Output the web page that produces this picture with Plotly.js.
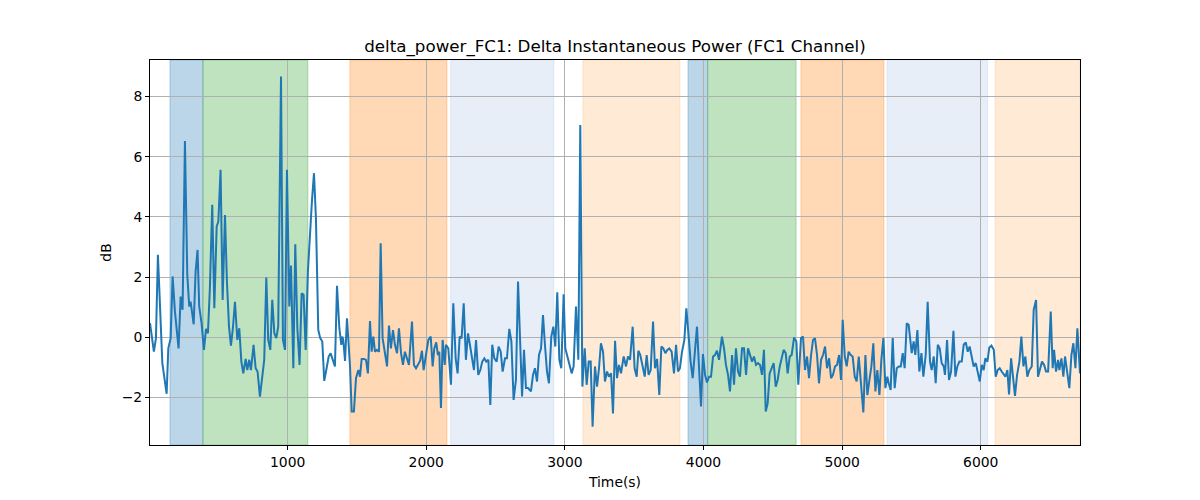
<!DOCTYPE html>
<html>
<head>
<meta charset="utf-8">
<script src="https://cdn.plot.ly/plotly-3.0.1.min.js"></script>
<style>html,body{margin:0;padding:0;background:#fff;}#chart{width:1200px;height:500px;}</style>
</head>
<body>
<div id="chart"></div>
<script>
// Time (s)
const timeS = [
7,35,50,64,96,127,139,156,170,187,213,228,242,259,276,290,300,307,322,336,350,362,379,396,411,425,439,456,471,488,500,516,531,548,562,577,591,605,620,637,651,666,680,
697,709,723,735,742,754,769,783,800,817,831,846,860,875,889,904,918,932,952,966,981,995,1012,1024,1041,1055,1070,1086,1101,1115,1130,1146,1163,1175,1190,1204,1221,1235,1250,1264,1281,1296,1310,1327,1341,1356,1373,
1387,1394,1401,1414,1428,1450,1462,1478,1493,1510,1522,1534,1551,1565,1579,1594,1606,1618,1630,1644,1659,1671,1685,1702,1717,1731,1745,1760,1774,1789,1803,1818,1832,1846,1861,1875,1897,1911,1926,1940,1955,1969,1981,1996,2015,2032,2046,2058,
2072,2084,2094,2106,2118,2133,2142,2159,2178,2195,2212,2226,2241,2255,2270,2286,2301,2315,2330,2344,2359,2375,2390,2404,2419,2433,2448,2462,2476,2491,2508,2522,2537,2551,2568,2582,2599,2614,2630,2647,2662,2676,2691,2705,2719,2734,
2755,2770,2784,2799,2813,2828,2842,2856,2871,2885,2902,2917,2931,2945,2960,2974,2991,3003,3018,3034,3049,3063,3080,3097,3111,3126,3143,3157,3172,3186,3200,3217,3232,3246,3260,3275,3289,3304,3318,3333,3347,3362,3376,3390,3405,3424,
3441,3455,3470,3489,3503,3518,3530,3544,3559,3576,3590,3604,3619,3636,3650,3665,3681,3696,3710,3725,3739,3753,3770,3787,3802,3816,3830,3845,3862,3876,3893,3907,3922,3939,3953,3968,3982,3996,4011,4025,4040,4054,4069,4083,4097,4112,
4133,4148,4162,4177,4191,4206,4220,4234,4249,4263,4278,4292,4307,4321,4335,4350,4364,4379,4393,4408,4422,4436,4449,4463,4477,4492,4506,4521,4535,4550,4564,4578,4593,4607,4622,4636,4653,4670,4684,4703,4718,4732,4747,4761,4776,4790,4804,
4819,4833,4848,4862,4877,4891,4906,4920,4934,4949,4963,4978,4992,5004,5019,5033,5047,5062,5076,5091,5105,5120,5134,5153,5168,5182,5197,5211,5225,5240,5254,5269,5283,5298,5312,5326,5336,5350,5365,5379,5394,5408,5423,5437,5451,5466,5480,
5502,5516,5528,5543,5557,5572,5586,5603,5617,5634,5646,5661,5675,5690,5704,5718,5733,5742,5757,5771,5786,5803,5817,5831,5846,5863,5877,5892,5906,5920,5935,5949,5964,5978,5993,6007,6021,6033,6048,6062,6077,6094,6108,6122,6137,6151,6168,
6178,6192,6204,6219,6233,6247,6262,6279,6293,6308,6322,6336,6351,6368,6382,6399,6413,6428,6442,6457,6471,6486,6505,6519,6529,6543,6558,6567,6582,6596,6608,6623,6639,6654,6668,6683,6697,6716
];
// delta power FC1 (dB)
const deltaPowerDb = [
0.47,-0.48,-0.03,2.74,-0.86,-1.88,-0.37,-0.03,2.02,0.85,-0.37,1.35,0.91,6.52,2.07,1.02,1.18,0.96,0.43,2.18,2.9,1.02,0.47,-0.42,0.28,0.13,1.63,4.4,0.96,3.68,3.84,5.56,1.24,4.06,1.85,0.35,-0.28,0.3,1.18,-0.09,0.3,-0.81,-1.2,
-0.72,-1.09,-0.75,-1.09,-0.79,-0.25,-1.03,-1.14,-1.97,-1.25,-0.75,1.98,-0.09,-0.42,1.24,0.13,-0.03,0.35,8.66,-0.09,-0.42,5.56,1.02,2.38,-1.03,3.09,0.3,-0.92,1.46,1.41,-0.42,2.18,3.62,4.51,5.45,3.95,0.24,-0.03,-0.14,-1.45,-1.03,-0.64,-0.53,-0.81,-0.97,1.71,0.3,
-0.25,0.02,-0.09,-0.79,0.63,-0.97,-2.47,-2.47,-1.36,-1.09,-1.31,-0.72,-0.72,-0.75,-1.2,0.54,-0.48,0.02,-0.48,-0.42,-0.48,3.12,-0.03,-0.53,-0.97,0.39,-0.37,0.24,-0.25,-0.53,0.3,-0.53,-0.92,-0.48,-0.7,-0.92,0.52,-0.92,-1.03,-0.92,-0.79,-0.45,-1.09,-0.64,-0.09,0.02,-0.97,-0.37,
-0.17,-0.59,-0.48,-2.35,-0.09,-0.92,-0.25,-0.37,-1.58,1.13,-0.7,-1.2,0.02,-0.03,1.13,-0.75,0.13,-0.25,-0.75,-1.09,-0.09,-1.25,-1.09,-0.81,-0.7,-0.81,-0.75,-2.25,-0.25,-0.7,-0.81,-0.31,-0.48,-1.14,-0.7,-0.7,0.28,-0.14,-2.08,-1.42,1.85,-0.37,-1.97,-0.42,-1.69,-1.69,
-1.8,-1.25,-1.03,-1.47,-0.59,-0.37,0.74,-0.25,-1.14,-1.53,0.02,0.35,-0.31,1.49,-0.75,-1.03,1.43,-0.37,-0.64,-0.97,-1.2,-0.97,1.02,-0.75,7.05,-1.64,-0.37,-1.58,-0.81,-0.81,-2.97,-0.97,-1.64,-1.03,-0.2,-0.48,-1.47,-1.14,-1.31,-1.2,-2.53,-0.12,-1.36,-0.92,-1.2,-0.64,
-0.97,-0.64,-0.75,0.35,-1.03,-1.31,-0.45,-0.59,-0.97,-1.31,-0.59,-1.25,-1.09,0.52,-1.03,-0.72,-1.92,-0.31,-0.37,-0.53,-0.42,-0.37,-0.48,-1.2,-0.25,-1.14,-1.03,-0.48,-0.09,0.96,0.02,-0.81,-1.36,-0.45,0.35,-1.03,-2.3,-0.56,-1.25,-1.5,-1.31,-1.31,-0.64,-0.59,-0.45,-0.75,
0.02,-0.37,-0.92,-1.25,-1.8,-0.59,-1.58,-0.37,-1.14,-1.31,-0.37,-0.37,-1.25,-0.37,-0.59,-0.81,-0.64,-0.92,-0.86,-0.92,-1.25,-0.42,-2.47,-2.19,-1.2,-1.03,-0.86,-1.64,-1.42,-0.97,-0.64,-0.42,-0.53,-1.2,-0.64,-0.59,-0.01,-0.14,-1.58,-0.03,0.02,-1.09,-0.64,-1.36,-0.59,-0.09,-0.03,
-0.59,-1.53,-0.75,-0.59,-0.31,-1.03,-0.7,-1.36,-1.25,-0.97,-0.92,-0.59,-1.42,0.58,-0.64,-0.97,-0.48,-0.59,-0.64,-1.31,-1.47,-0.64,-1.53,-2.5,-0.59,-1.92,-1.42,-0.97,-0.2,-1.8,-1.09,-1.92,-0.75,-0.03,-1.69,-1.31,-1.53,-1.75,-0.03,-1.69,-1.03,-0.97,-0.97,-0.53,-1.03,0.46,0.41,
-0.53,-0.14,-0.59,0.24,-1.14,-0.53,-1.31,-0.59,1.18,-0.81,-1.09,-0.64,-1.53,-0.25,-0.37,-0.86,-0.97,-1.25,-0.09,-1.42,-1.14,0.21,-1.31,-0.97,-0.81,-0.81,-0.25,-0.17,-0.48,-0.31,-0.64,-0.97,-0.86,-1.14,-1.47,-0.92,-1.09,-0.7,-0.81,-0.34,-0.28,-0.42,-1.31,-1.09,-1.03,-1.14,-1.25,
-1.31,-1.09,-1.9,-0.7,-1.25,-1.95,-1.25,-0.81,0.02,-0.97,-0.64,-1.31,-1.09,-0.97,0.91,1.24,-1.31,-1.09,-0.81,-0.92,-1.14,-1.14,0.85,-1.03,-0.42,-1.14,-0.75,-1.09,-0.7,-1.31,-0.64,-1.14,-1.69,-0.59,-0.2,-1.03,0.3,-1.2
];
// shaded stage intervals (s)
const spanStart = [151, 389, 1449, 2176, 3130, 3888, 4030, 4703, 5324, 6103];
const spanEnd   = [389, 1146, 2149, 2921, 3830, 4030, 4668, 5302, 6050, 6716];
const spanColor = ['#1f77b4','#2ca02c','#ff7f0e','#aec7e8','#ffbb78','#1f77b4','#2ca02c','#ff7f0e','#aec7e8','#ffbb78'];

const xRange = [7, 6716];
const yRange = [-3.58, 9.21];

function rgba(hex, a){
  const n = parseInt(hex.slice(1), 16);
  return 'rgba(' + ((n>>16)&255) + ',' + ((n>>8)&255) + ',' + (n&255) + ',' + a + ')';
}

const shapes = spanStart.map((s, i) => ({
  type: 'rect', xref: 'x', yref: 'paper', x0: s, x1: spanEnd[i], y0: 0, y1: 1,
  fillcolor: rgba(spanColor[i], 0.3), line: {color: rgba(spanColor[i], 0.3), width: 1}, layer: 'below'
}));

const font = 'DejaVu Sans, sans-serif';
const trace = {
  x: timeS, y: deltaPowerDb, type: 'scatter', mode: 'lines',
  line: {color: '#1f77b4', width: 2}, hoverinfo: 'skip'
};

const layout = {
  width: 1200, height: 500,
  margin: {l: 150, r: 120, t: 60, b: 55, pad: 0},
  paper_bgcolor: '#ffffff', plot_bgcolor: '#ffffff',
  showlegend: false,
  font: {family: font, color: '#000', size: 13.9},
  title: {text: 'delta_power_FC1: Delta Instantaneous Power (FC1 Channel)', x: 0.5125, xanchor: 'center', y: 0.908, yanchor: 'middle', yref: 'container', font: {family: font, size: 16.7, color: '#000'}},
  xaxis: {
    range: xRange, dtick: 1000, tick0: 0, showgrid: true, gridcolor: '#b0b0b0', gridwidth: 1,
    zeroline: false, showline: true, linecolor: '#000', linewidth: 1, mirror: true,
    ticks: 'outside', ticklen: 4, tickwidth: 1, tickcolor: '#000',
    tickfont: {family: font, size: 13.9, color: '#000'},
    title: {text: 'Time(s)', font: {family: font, size: 13.9, color: '#000'}, standoff: 8}
  },
  yaxis: {
    range: yRange, dtick: 2, tick0: 0, showgrid: true, gridcolor: '#b0b0b0', gridwidth: 1,
    zeroline: false, showline: true, linecolor: '#000', linewidth: 1, mirror: true,
    ticks: 'outside', ticklen: 4, tickwidth: 1, tickcolor: '#000',
    tickfont: {family: font, size: 13.9, color: '#000'},
    title: {text: 'dB', font: {family: font, size: 13.9, color: '#000'}, standoff: 6}
  },
  shapes: shapes
};

Plotly.newPlot('chart', [trace], layout, {staticPlot: true, displayModeBar: false});
</script>
</body>
</html>
